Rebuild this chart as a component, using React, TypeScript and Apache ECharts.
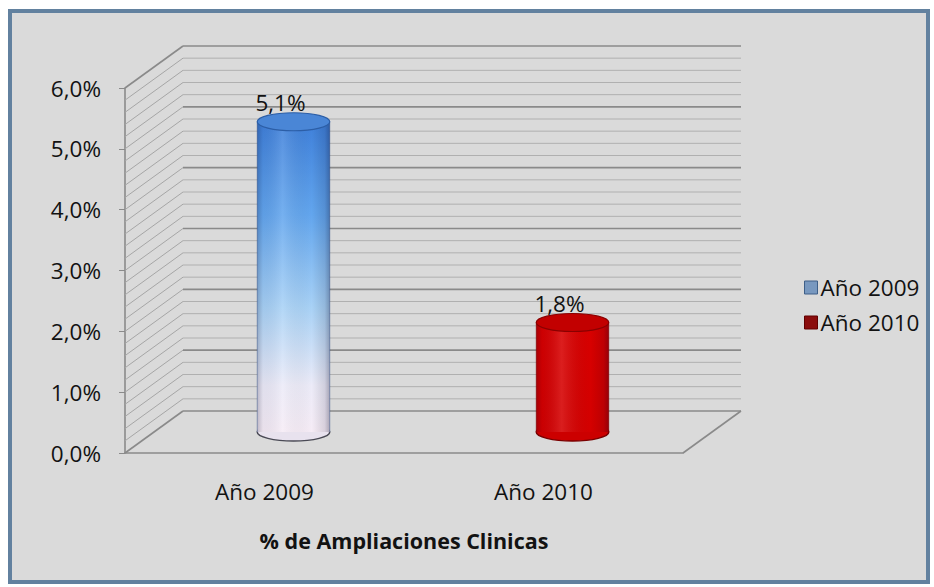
import React, { useEffect, useRef } from "react";
import * as echarts from "echarts";

const categories = ["Año 2009", "Año 2010"];
const values2009 = [0.051];
const values2010 = [0.018];
const seriesNames = ["Año 2009", "Año 2010"];
const yTicks = { min: 0, max: 0.06, interval: 0.01, minorSteps: 5 };
const axisTitle = "% de Ampliaciones Clinicas";

const DX = 58;
const DY = -42;
const FONT = "'Open Sans', 'DejaVu Sans', sans-serif";
const FS = 22.5;
const TXT = "#121212";

const fmtPct = (v: number) => (v * 100).toFixed(1).replace(".", ",") + "%";

function wallsRender(params: any, api: any) {
  const cs = params.coordSys;
  const x0 = cs.x;
  const x1 = cs.x + cs.width;
  const children: any[] = [];
  const n = Math.round((yTicks.max - yTicks.min) / yTicks.interval) * yTicks.minorSteps;
  for (let i = n; i >= 0; i--) {
    const v = yTicks.min + (i * yTicks.interval) / yTicks.minorSteps;
    const y = api.coord([0, v])[1];
    const major = i % yTicks.minorSteps === 0;
    const stroke = major ? "#8a8a8a" : "#b0b0b0";
    const lw = major ? 1.6 : 1;
    children.push({
      type: "line",
      shape: { x1: x0 + DX, y1: y + DY, x2: x1 + DX, y2: y + DY },
      style: { stroke, lineWidth: lw },
    });
    children.push({
      type: "line",
      shape: { x1: x0, y1: y, x2: x0 + DX, y2: y + DY },
      style: { stroke: i === 0 || i === n ? "#8a8a8a" : "#a6a6a6", lineWidth: i === 0 || i === n ? 1.6 : 1 },
    });
  }
  const yb = api.coord([0, yTicks.min])[1];
  children.push({
    type: "line",
    shape: { x1: x1, y1: yb, x2: x1 + DX, y2: yb + DY },
    style: { stroke: "#8a8a8a", lineWidth: 1.6 },
  });
  return { type: "group", children };
}

function makeCylinder(theme: any) {
  return function (params: any, api: any) {
    const cat = api.value(0);
    const val = api.value(1);
    const top = api.coord([cat, val]);
    const base = api.coord([cat, 0]);
    const bw = api.size([1, 0])[0] * 0.26;
    const rx = bw / 2;
    const ry = 9;
    const cx = top[0] + DX / 2;
    const ty = top[1] + DY / 2;
    const by = base[1] + DY / 2;
    const shade = new echarts.graphic.LinearGradient(0, 0, 1, 0, [
      { offset: 0, color: "rgba(0,0,30,0.22)" },
      { offset: 0.08, color: "rgba(0,0,30,0.05)" },
      { offset: 0.35, color: "rgba(255,255,255,0.12)" },
      { offset: 0.75, color: "rgba(0,0,0,0)" },
      { offset: 0.93, color: "rgba(0,0,30,0.12)" },
      { offset: 1, color: "rgba(0,0,30,0.3)" },
    ]);
    const body = new echarts.graphic.LinearGradient(0, 0, 0, 1, theme.bodyStops);
    return {
      type: "group",
      children: [
        {
          type: "ellipse",
          shape: { cx, cy: by, rx, ry },
          style: { fill: theme.bottom, stroke: theme.bottomStroke, lineWidth: 1.5 },
        },
        {
          type: "rect",
          shape: { x: cx - rx, y: ty, width: bw, height: by - ty },
          style: { fill: body },
        },
        {
          type: "rect",
          shape: { x: cx - rx, y: ty, width: bw, height: by - ty },
          style: { fill: shade },
        },
        {
          type: "line",
          shape: { x1: cx - rx, y1: ty, x2: cx - rx, y2: by },
          style: { stroke: theme.edge, lineWidth: 1 },
        },
        {
          type: "line",
          shape: { x1: cx + rx, y1: ty, x2: cx + rx, y2: by },
          style: { stroke: theme.edge, lineWidth: 1 },
        },
        {
          type: "ellipse",
          shape: { cx, cy: ty, rx, ry },
          style: { fill: theme.top, stroke: theme.topStroke, lineWidth: 1.2 },
        },
        {
          type: "text",
          style: {
            text: fmtPct(val),
            x: cx - 13,
            y: ty - 19,
            align: "center",
            verticalAlign: "middle",
            font: `${FS}px ${FONT}`,
            fill: TXT,
          },
        },
      ],
    };
  };
}

const blueTheme = {
  bodyStops: [
    { offset: 0, color: "#3f80da" },
    { offset: 0.3, color: "#63a6ee" },
    { offset: 0.6, color: "#a9d2f6" },
    { offset: 0.85, color: "#ecebf8" },
    { offset: 1, color: "#f6ecf6" },
  ],
  bottom: "#e8e2ee",
  bottomStroke: "#4a4a55",
  edge: "rgba(40,70,130,0.45)",
  top: "#4a86d6",
  topStroke: "#2c5ea6",
};

const redTheme = {
  bodyStops: [
    { offset: 0, color: "#d80000" },
    { offset: 1, color: "#d40000" },
  ],
  bottom: "#cc0000",
  bottomStroke: "#7a0000",
  edge: "rgba(110,0,0,0.5)",
  top: "#c20000",
  topStroke: "#8a0000",
};

export default function App() {
  const ref = useRef<HTMLDivElement>(null);
  useEffect(() => {
    if (!ref.current) return;
    const chart = echarts.init(ref.current, undefined, { renderer: "svg" });
    const option: any = {
      animation: false,
      backgroundColor: "#ffffff",
      graphic: [
        {
          type: "rect",
          z: -10,
          silent: true,
          shape: { x: 10, y: 11, width: 918, height: 571 },
          style: { fill: "#dadada", stroke: "#62819f", lineWidth: 4 },
        },
      ],
      grid: { left: 125, right: 251, top: 88, bottom: 134, containLabel: false },
      legend: {
        orient: "vertical",
        left: 799,
        top: 271,
        itemWidth: 13,
        itemHeight: 13,
        itemGap: 12,
        textStyle: { fontSize: FS, color: TXT, fontFamily: FONT, padding: [0, 0, 0, -2] },
        data: [
          { name: seriesNames[0], icon: "rect", itemStyle: { color: "#7898bf", borderColor: "#3e5f88", borderWidth: 1 } },
          { name: seriesNames[1], icon: "rect", itemStyle: { color: "#8a0c0c", borderColor: "#600000", borderWidth: 1 } },
        ],
      },
      xAxis: {
        type: "category",
        data: categories,
        axisLine: { show: true, lineStyle: { color: "#8a8a8a", width: 1.6 } },
        axisTick: { show: false },
        axisLabel: { fontSize: FS, color: TXT, fontFamily: FONT, margin: 27 },
        name: axisTitle,
        nameLocation: "middle",
        nameGap: 76,
        nameTextStyle: { fontSize: 21.5, fontWeight: "bold", color: TXT, fontFamily: FONT },
      },
      yAxis: {
        type: "value",
        min: yTicks.min,
        max: yTicks.max,
        interval: yTicks.interval,
        axisLine: { show: true, lineStyle: { color: "#8a8a8a", width: 1.6 } },
        axisTick: { show: true, length: 6, lineStyle: { color: "#8a8a8a" } },
        splitLine: { show: false },
        axisLabel: { fontSize: FS, color: TXT, fontFamily: FONT, margin: 24, formatter: (v: number) => fmtPct(v) },
      },
      series: [
        {
          type: "custom",
          name: "walls",
          z: 1,
          silent: true,
          renderItem: wallsRender,
          data: [[0, 0]],
        },
        {
          type: "custom",
          name: seriesNames[0],
          z: 3,
          itemStyle: { color: "#7898bf" },
          renderItem: makeCylinder(blueTheme),
          data: values2009.map((v) => [0, v]),
        },
        {
          type: "custom",
          name: seriesNames[1],
          z: 3,
          itemStyle: { color: "#8a0c0c" },
          renderItem: makeCylinder(redTheme),
          data: values2010.map((v) => [1, v]),
        },
      ],
    };
    chart.setOption(option);
    return () => chart.dispose();
  }, []);
  return (
    <div
      ref={ref}
      style={{ position: "absolute", left: 0, top: 0, width: 934, height: 587 }}
    />
  );
}
